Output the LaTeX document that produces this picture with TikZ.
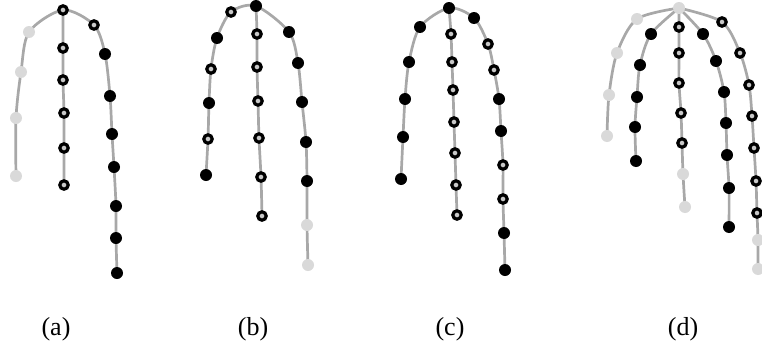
\documentclass[tikz,border=0pt]{standalone}
\usepackage{fontspec}
\setmainfont{Liberation Serif}
\usetikzlibrary{backgrounds}
\definecolor{lngray}{HTML}{A8A8A8}
\definecolor{ltdot}{HTML}{D9D9D9}
\definecolor{ringin}{HTML}{C8C8C8}
\begin{document}
\begin{tikzpicture}[x=1pt,y=-1pt,
  blk/.style={circle,fill=black,inner sep=0pt,minimum size=12pt},
  lgt/.style={circle,fill=ltdot,inner sep=0pt,minimum size=12pt},
  ring/.style={circle,draw=black,line width=3.2pt,fill=ringin,inner sep=0pt,minimum size=8.4pt},
  ln/.style={draw=lngray,line width=2.7pt,line cap=round},
  lab/.style={font=\fontsize{26}{30}\selectfont,anchor=base}]
\useasboundingbox (0,0) rectangle (762,348);
% (a)
\foreach \n/\s/\x/\y in {a0/ring/63/10,
  aL1/lgt/29/32, aL2/lgt/21/72, aL3/lgt/16/118, aL4/lgt/16/176,
  aM1/ring/63/48, aM2/ring/63/80, aM3/ring/64/113, aM4/ring/64/148, aM5/ring/64/185,
  aR1/ring/94/25, aR2/blk/105/54, aR3/blk/110/96, aR4/blk/112/134, aR5/blk/114/167,
  aR6/blk/116/206, aR7/blk/116/238, aR8/blk/117/273}
  \node[\s] (\n) at (\x,\y) {};
% (b)
\foreach \n/\s/\x/\y in {b0/blk/256/6,
  bL1/ring/231/12, bL2/blk/217/38, bL3/ring/211/69, bL4/blk/209/103, bL5/ring/208/139, bL6/blk/206/175,
  bM1/ring/257/34, bM2/ring/257/67, bM3/ring/258/101, bM4/ring/259/138, bM5/ring/261/177, bM6/ring/262/216,
  bR1/blk/289/32, bR2/blk/298/63, bR3/blk/302/102, bR4/blk/306/142, bR5/blk/307/181,
  bR6/lgt/307/225, bR7/lgt/308/265}
  \node[\s] (\n) at (\x,\y) {};
% (c)
\foreach \n/\s/\x/\y in {c0/blk/449/8,
  cL1/blk/420/27, cL2/blk/409/62, cL3/blk/405/99, cL4/blk/403/137, cL5/blk/401/179,
  cM1/ring/451/34, cM2/ring/452/62, cM3/ring/453/90, cM4/ring/454/122, cM5/ring/455/153,
  cM6/ring/456/185, cM7/ring/457/215,
  cR1/blk/474/18, cR2/ring/488/44, cR3/ring/494/70, cR4/blk/499/99, cR5/blk/501/131,
  cR6/ring/503/165, cR7/ring/503/199, cR8/blk/504/233, cR9/blk/505/270}
  \node[\s] (\n) at (\x,\y) {};
% (d)
\foreach \n/\s/\x/\y in {d0/lgt/679/8,
  dA1/lgt/637/19, dA2/lgt/617/53, dA3/lgt/609/95, dA4/lgt/607/136,
  dB1/blk/651/34, dB2/blk/640/65, dB3/blk/637/97, dB4/blk/635/127, dB5/blk/636/161,
  dC1/ring/679/27, dC2/ring/679/53, dC3/ring/679/83, dC4/ring/681/113, dC5/ring/682/143,
  dC6/lgt/683/174, dC7/lgt/685/207,
  dD1/blk/703/34, dD2/blk/716/61, dD3/blk/724/92, dD4/blk/726/123, dD5/blk/727/155,
  dD6/blk/729/188, dD7/blk/729/227,
  dE1/ring/722/22, dE2/ring/740/53, dE3/ring/749/85, dE4/ring/752/116, dE5/ring/754/148,
  dE6/ring/756/181, dE7/ring/757/213, dE8/lgt/758/240, dE9/lgt/758/269}
  \node[\s] (\n) at (\x,\y) {};
\begin{pgfonlayer}{background}
% (a)
\draw[ln] plot[smooth] coordinates {(aL4.center) (aL3.center) (aL2.center) (aL1.center) (a0.center)
  (aR1.center) (aR2.center) (aR3.center) (aR4.center) (aR5.center) (aR6.center) (aR7.center) (aR8.center)};
\draw[ln] plot[smooth] coordinates {(a0.center) (aM1.center) (aM2.center) (aM3.center) (aM4.center) (aM5.center)};
% (b)
\draw[ln] plot[smooth] coordinates {(bL6.center) (bL5.center) (bL4.center) (bL3.center) (bL2.center) (bL1.center) (b0.center)
  (bR1.center) (bR2.center) (bR3.center) (bR4.center) (bR5.center) (bR6.center) (bR7.center)};
\draw[ln] plot[smooth] coordinates {(b0.center) (bM1.center) (bM2.center) (bM3.center) (bM4.center) (bM5.center) (bM6.center)};
% (c)
\draw[ln] plot[smooth] coordinates {(cL5.center) (cL4.center) (cL3.center) (cL2.center) (cL1.center) (c0.center)
  (cR1.center) (cR2.center) (cR3.center) (cR4.center) (cR5.center) (cR6.center) (cR7.center) (cR8.center) (cR9.center)};
\draw[ln] plot[smooth] coordinates {(c0.center) (cM1.center) (cM2.center) (cM3.center) (cM4.center) (cM5.center) (cM6.center) (cM7.center)};
% (d)
\draw[ln] plot[smooth] coordinates {(d0.center) (dA1.center) (dA2.center) (dA3.center) (dA4.center)};
\draw[ln] plot[smooth] coordinates {(d0.center) (dB1.center) (dB2.center) (dB3.center) (dB4.center) (dB5.center)};
\draw[ln] plot[smooth] coordinates {(d0.center) (dC1.center) (dC2.center) (dC3.center) (dC4.center) (dC5.center) (dC6.center) (dC7.center)};
\draw[ln] plot[smooth] coordinates {(d0.center) (dD1.center) (dD2.center) (dD3.center) (dD4.center) (dD5.center) (dD6.center) (dD7.center)};
\draw[ln] plot[smooth] coordinates {(d0.center) (dE1.center) (dE2.center) (dE3.center) (dE4.center) (dE5.center) (dE6.center) (dE7.center) (dE8.center) (dE9.center)};
\end{pgfonlayer}
% labels
\node[lab] (la) at (56,335.5) {(a)};
\node[lab] (lb) at (253,335.5) {(b)};
\node[lab] (lc) at (450,335.5) {(c)};
\node[lab] (ld) at (683,335.5) {(d)};
\end{tikzpicture}
\end{document}
